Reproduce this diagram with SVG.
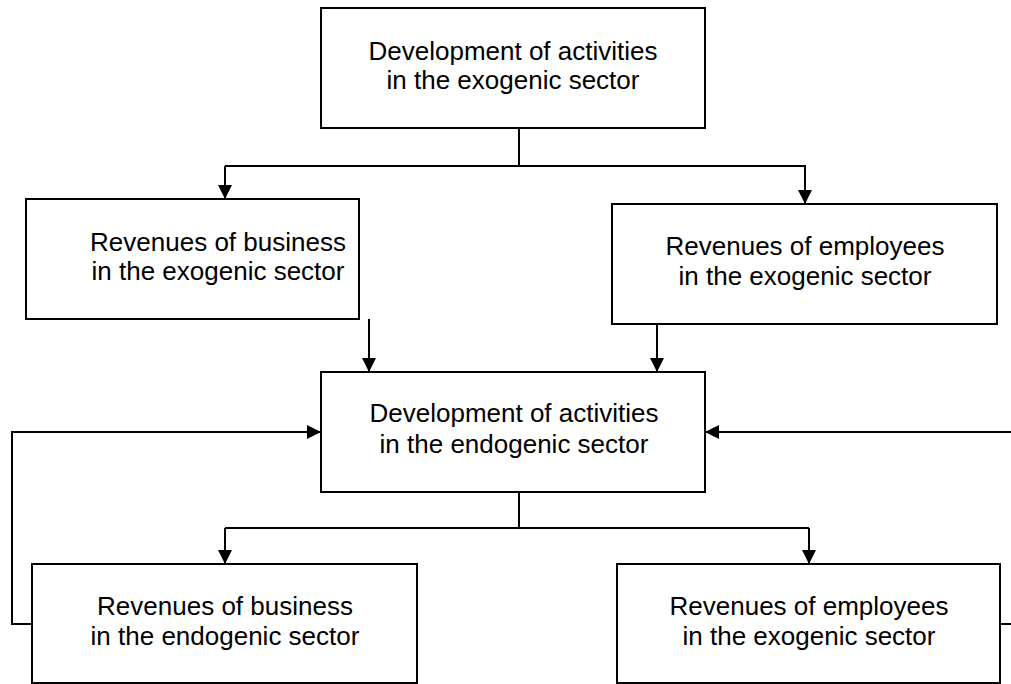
<svg xmlns="http://www.w3.org/2000/svg" width="1011" height="684" viewBox="0 0 1011 684">
<style>
  .box { fill: #fff; stroke: #000; stroke-width: 2; }
  .lbl { font-family: "Liberation Sans", Arial, sans-serif; font-size: 26px; fill: #000; text-anchor: middle; }
  .conn { fill: none; stroke: #000; stroke-width: 2; }
  .arr { fill: none; stroke: #000; stroke-width: 2; marker-end: url(#ah); }
</style>
<defs>
  <marker id="ah" viewBox="0 0 14 14" markerWidth="14" markerHeight="14" refX="14" refY="7" orient="auto" markerUnits="userSpaceOnUse">
    <path d="M0,0 L14,7 L0,14 z" fill="#000"/>
  </marker>
</defs>
<rect width="1011" height="684" fill="#fff"/>
<g id="connectors">
  <path class="conn" d="M519,128 V166 M225,166 H806"/>
  <path class="arr" d="M225,166 V199"/>
  <path class="arr" d="M805,166 V204"/>
  <path class="arr" d="M369,319 V372"/>
  <path class="arr" d="M657,324 V372"/>
  <path class="arr" d="M32,624 H12 V432 H321"/>
  <path class="arr" d="M1000,624 H1025 V432 H705"/>
  <path class="conn" d="M519,492 V528 M225,528 H809"/>
  <path class="arr" d="M225,528 V564"/>
  <path class="arr" d="M809,528 V564"/>
</g>
<g id="node-top">
  <rect class="box" x="321" y="8" width="384" height="120"/>
  <text class="lbl" x="513" y="60">Development of activities</text>
  <text class="lbl" x="513" y="89">in the exogenic sector</text>
</g>
<g id="node-biz-exo">
  <rect class="box" x="26" y="199" width="333" height="120"/>
  <text class="lbl" x="218" y="251">Revenues of business</text>
  <text class="lbl" x="218" y="280">in the exogenic sector</text>
</g>
<g id="node-emp-exo">
  <rect class="box" x="612" y="204" width="385" height="120"/>
  <text class="lbl" x="805" y="255">Revenues of employees</text>
  <text class="lbl" x="805" y="285">in the exogenic sector</text>
</g>
<g id="node-endo">
  <rect class="box" x="321" y="372" width="384" height="120"/>
  <text class="lbl" x="514" y="422">Development of activities</text>
  <text class="lbl" x="514" y="453">in the endogenic sector</text>
</g>
<g id="node-biz-endo">
  <rect class="box" x="32" y="564" width="385" height="119"/>
  <text class="lbl" x="225" y="615">Revenues of business</text>
  <text class="lbl" x="225" y="645">in the endogenic sector</text>
</g>
<g id="node-emp-exo2">
  <rect class="box" x="617" y="564" width="383" height="119"/>
  <text class="lbl" x="809" y="615">Revenues of employees</text>
  <text class="lbl" x="809" y="645">in the exogenic sector</text>
</g>
</svg>
